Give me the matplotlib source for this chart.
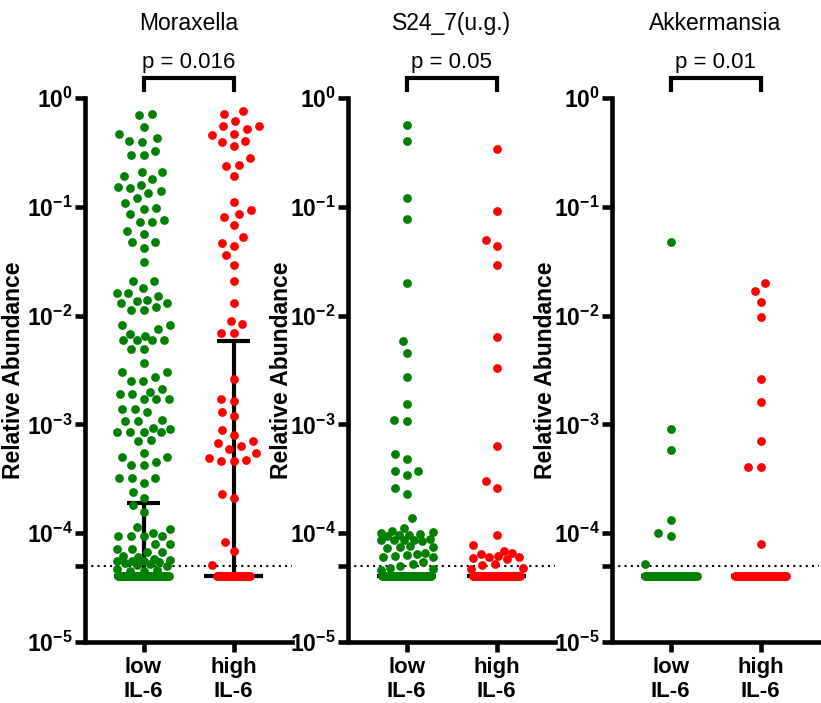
import numpy as np
import matplotlib.pyplot as plt
from matplotlib import transforms

plt.rcParams['font.family'] = ['Liberation Sans', 'DejaVu Sans']
plt.rcParams['mathtext.fontset'] = 'custom'
plt.rcParams['mathtext.rm'] = 'Liberation Sans'
plt.rcParams['mathtext.bf'] = 'Liberation Sans:bold'

taxa = ['Moraxella', 'S24_7(u.g.)', 'Akkermansia']
groups = ['low\nIL-6', 'high\nIL-6']
p_text = ['p = 0.016', 'p = 0.05', 'p = 0.01']
floor_val = 4e-5    # below detection, plotted on one row
detect = 5e-5       # detection limit (dotted line)

# values above the floor
mor_low = [0.71, 0.70, 0.545, 0.467, 0.426, 0.40, 0.39, 0.328, 0.30, 0.30, 0.21, 0.21,
           0.19, 0.18, 0.16, 0.152, 0.15, 0.14, 0.133, 0.12, 0.108, 0.098, 0.096, 0.085,
           0.075, 0.072, 0.072, 0.06, 0.056, 0.047, 0.047, 0.042, 0.031, 0.021, 0.021,
           0.018, 0.016, 0.016, 0.015, 0.014, 0.0135, 0.013, 0.013, 0.012, 0.0112, 0.0112,
           0.0082, 0.0082, 0.0075, 0.0068, 0.0065, 0.006, 0.006, 0.006, 0.006, 0.0049,
           0.0049, 0.0037, 0.003, 0.003, 0.0027, 0.0025, 0.0025, 0.0021, 0.002, 0.0019,
           0.0019, 0.0017, 0.0017, 0.0017, 0.0014, 0.0014, 0.0013, 0.0011, 0.00108,
           0.00108, 0.00093, 0.0009, 0.00085, 0.00085, 0.00085, 0.00085, 0.00072, 0.0007,
           0.00055, 0.0005, 0.0005, 0.00045, 0.00042, 0.00042, 0.00032, 0.00032, 0.00032,
           0.00029, 0.00024, 0.00021, 0.00018, 0.000155, 0.000115, 0.00011, 0.0001,
           9.4e-5, 9.4e-5, 9.4e-5, 9.4e-5, 8e-5, 8e-5, 7.2e-5, 7.2e-5, 6.7e-5, 6.7e-5,
           6.2e-5, 6.0e-5, 5.8e-5, 5.7e-5, 5.6e-5, 5.5e-5, 5.5e-5, 5.4e-5, 5.3e-5, 5.2e-5,
           5.1e-5, 5.0e-5, 4.7e-5, 4.6e-5, 4.5e-5, 4.5e-5]
mor_high = [0.76, 0.72, 0.62, 0.55, 0.52, 0.55, 0.47, 0.46, 0.40, 0.39, 0.36, 0.28, 0.24,
            0.235, 0.19, 0.11, 0.094, 0.086, 0.08, 0.068, 0.053, 0.046, 0.044, 0.036,
            0.029, 0.021, 0.013, 0.009, 0.0083, 0.0069, 0.0069, 0.0026, 0.0017, 0.00165,
            0.0013, 0.0012, 0.00088, 0.0008, 0.00071, 0.00067, 0.00063, 0.00059, 0.00055,
            0.00049, 0.00047, 0.00046, 0.00046, 0.00023, 0.00021, 8.3e-5, 6.8e-5, 5.1e-5]
s24_low = [0.57, 0.40, 0.12, 0.077, 0.02, 0.0058, 0.0045, 0.0027, 0.00153, 0.00107,
           0.0011, 0.00054, 0.00048, 0.00037, 0.00037, 0.00034, 0.00026, 0.00023,
           0.000138, 1.12e-4, 1.05e-4, 1.02e-4, 1.0e-4, 9.8e-5, 9.6e-5, 9.6e-5, 9.4e-5,
           8.8e-5, 8.7e-5, 8.7e-5, 8.6e-5, 8.6e-5, 8.5e-5, 7.6e-5, 7.5e-5, 7.4e-5, 7.3e-5,
           6.6e-5, 6.4e-5, 6.3e-5, 6.2e-5, 6.1e-5, 6.0e-5, 5.4e-5, 5.2e-5, 5.0e-5, 4.8e-5,
           4.7e-5, 4.6e-5]
s24_high = [0.34, 0.092, 0.05, 0.044, 0.029, 0.0063, 0.0033, 0.00063, 0.0003, 0.00026,
            9.7e-5, 7.8e-5, 6.8e-5, 6.6e-5, 6.4e-5, 6.2e-5, 6.1e-5, 6.0e-5, 5.9e-5, 5.8e-5,
            5.2e-5, 5.1e-5, 4.8e-5, 4.7e-5]
akk_low = [0.047, 0.0009, 0.00058, 0.000132, 1.0e-4, 9.5e-5, 5.2e-5]
akk_high = [0.020, 0.017, 0.0134, 0.0098, 0.0026, 0.0016, 0.0007, 0.00041, 0.00041, 7.9e-5]

# number of samples sitting on the floor row
n_floor = [(40, 27), (38, 37), (41, 40)]

# median and interquartile range (low, high)
medians = [(4e-5, 4e-5), (4e-5, 4e-5), (4e-5, 4e-5)]
q1 = [(4e-5, 4e-5), (4e-5, 4e-5), (4e-5, 4e-5)]
q3 = [(1.9e-4, 5.8e-3), (4e-5, 4e-5), (4e-5, 4e-5)]

data = [(mor_low, mor_high), (s24_low, s24_high), (akk_low, akk_high)]
colors = ['#008000', '#ff0000']

ytick_vals = [1e-5, 1e-4, 1e-3, 1e-2, 1e-1, 1e0, detect]
ytick_labels = [r'$\mathbf{10^{-5}}$', r'$\mathbf{10^{-4}}$', r'$\mathbf{10^{-3}}$',
                r'$\mathbf{10^{-2}}$', r'$\mathbf{10^{-1}}$', r'$\mathbf{10^{0}}$', '']

W, H = 821, 703
fig = plt.figure(figsize=(W / 100, H / 100), dpi=100)
lefts = [85, 348, 612]
label_x = [-0.29, -0.265, -0.265]


def floor_row(ax, xc, n, step):
    p0 = ax.transData.transform((xc, floor_val))
    offs = (np.arange(n) - (n - 1) / 2) * step
    return offs, np.full(n, p0[1])


def swarm(ax, xc, vals, d, maxw, obst):
    # beeswarm offsets in pixel space, capped at +-maxw
    pts = ax.transData.transform(np.column_stack([np.full(len(vals), xc), vals]))
    order = np.argsort(pts[:, 1])
    placed = list(obst)
    grid = np.linspace(-maxw, maxw, 41)
    off = np.zeros(len(vals))
    for i in order:
        y = pts[i, 1]
        blocked = []
        for px, py in placed:
            dy = abs(py - y)
            if dy < d:
                w = np.sqrt(d * d - dy * dy)
                blocked.append((px - w, px + w))
        cands = [0.0] + [b[0] for b in blocked] + [b[1] for b in blocked]
        cands = [c for c in cands if abs(c) <= maxw]
        cands.sort(key=lambda c: (abs(c), c))
        best = None
        for c in cands:
            if all(not (lo + 1e-6 < c < hi - 1e-6) for lo, hi in blocked):
                best = c
                break
        if best is None:
            pa = np.array(placed)
            score = [np.min(np.hypot(pa[:, 0] - g, pa[:, 1] - y)) for g in grid]
            best = grid[int(np.argmax(score))]
        off[i] = best
        placed.append((best, y))
    back = ax.transData.inverted().transform(np.column_stack([pts[:, 0] + off, pts[:, 1]]))
    return back[:, 0]


for k in range(3):
    ax = fig.add_axes([lefts[k] / W, 1 - 642 / H, 207 / W, 544 / H])
    ax.set_yscale('log')
    ax.set_xlim(-0.65, 1.65)
    ax.set_ylim(1e-5, 1)
    for g in range(2):
        nf = n_floor[k][g]
        foff, fy = floor_row(ax, g, nf, 1.3)
        x0 = ax.transData.transform((g, floor_val))[0]
        fx = ax.transData.inverted().transform(np.column_stack([x0 + foff, fy]))[:, 0]
        ax.scatter(fx, np.full(nf, floor_val), s=40, color=colors[g], lw=0, zorder=3,
                   clip_on=False)
        vals = np.array(data[k][g])
        xs = swarm(ax, g, vals, 12.5, 26, list(zip(foff, fy)))
        ax.scatter(xs, vals, s=40, color=colors[g], lw=0, zorder=3, clip_on=False)
        # median with interquartile range
        ax.vlines(g, q1[k][g], q3[k][g], color='black', lw=3, zorder=2)
        ax.hlines(q3[k][g], g - 0.18, g + 0.18, color='black', lw=3, zorder=2)
        ax.hlines(medians[k][g], g - 0.33, g + 0.33, color='black', lw=3, zorder=2)

    ax.axhline(detect, color='black', ls=(0, (1, 2)), lw=1.5, zorder=1)

    ax.set_xticks([0, 1])
    ax.set_xticklabels(groups, fontsize=16, fontweight='bold', linespacing=1.15)
    ax.set_yticks(ytick_vals)
    ax.set_yticklabels(ytick_labels, fontsize=16.5)
    ax.minorticks_off()
    ax.tick_params(width=3.3, length=7, pad=2)
    ax.tick_params(axis='x', pad=4)
    for s in ['top', 'right']:
        ax.spines[s].set_visible(False)
    for s in ['left', 'bottom']:
        ax.spines[s].set_linewidth(3.3)
    ax.set_ylabel('Relative Abundance', fontsize=16.5, fontweight='bold')
    ax.yaxis.set_label_coords(label_x[k], 0.5)

    # significance bracket
    tr = transforms.blended_transform_factory(ax.transData, ax.transAxes)
    ax.plot([0, 0, 1, 1], [1.015, 1.037, 1.037, 1.015], color='black', lw=3,
            transform=tr, clip_on=False, solid_joinstyle='miter')
    ax.text(0.5, 1.055, p_text[k], transform=tr, ha='center', va='baseline', fontsize=16)
    ax.text(0.5, 1.125, taxa[k], transform=tr, ha='center', va='baseline', fontsize=16.5)

fig.savefig('out.png', dpi=100)
